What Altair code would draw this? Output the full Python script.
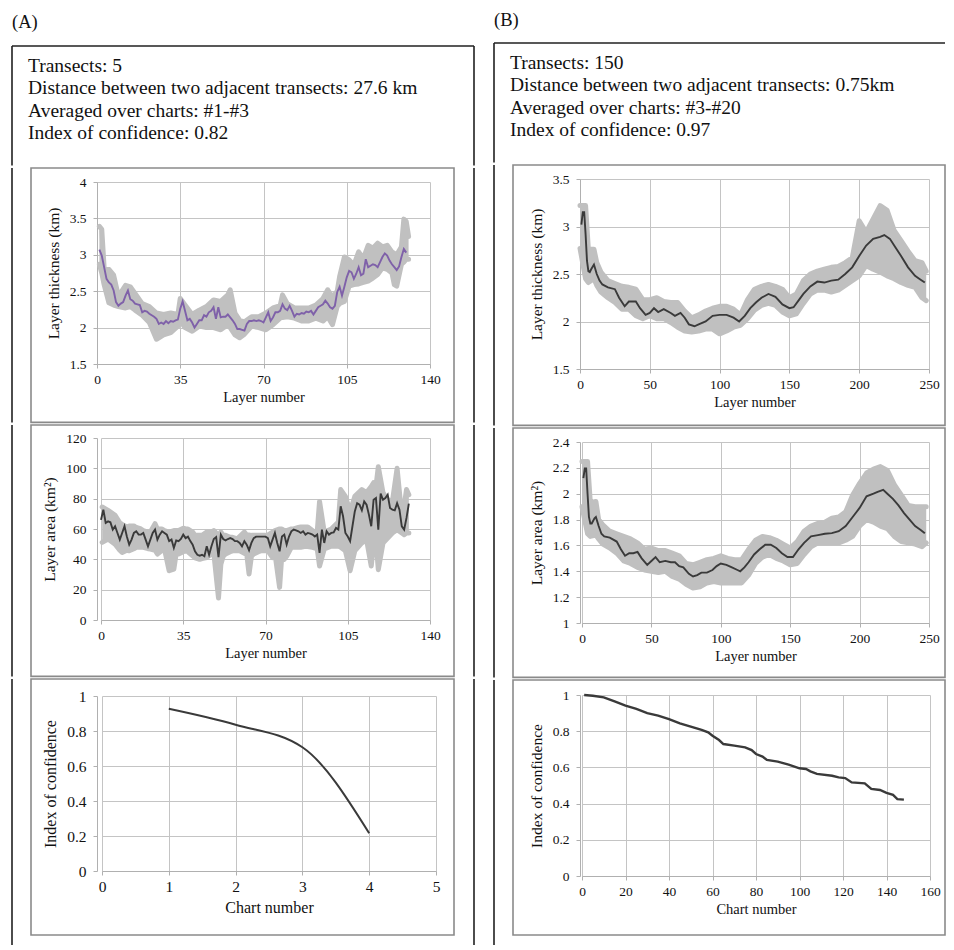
import altair as alt
import pandas as pd

FONT = "Liberation Serif"
GRID = "#c4c4c4"
BOXC = "#8a8a8a"
BLACK = "#202020"
BAND = "#c0c0c0"
DARK = "#3a3a3a"
PURPLE = "#7f61a9"

# ---------------- header texts ----------------
header_a = ["Transects: 5",
            "Distance between two adjacent transects: 27.6 km",
            "Averaged over charts: #1-#3",
            "Index of confidence: 0.82"]
header_b = ["Transects: 150",
            "Distance between two adjacent transects: 0.75km",
            "Averaged over charts: #3-#20",
            "Index of confidence: 0.97"]

# ---------------- (A) layer thickness ----------------
a1_layer = list(range(1, 131))
a1_mean = [3.07, 2.99, 2.83, 2.67, 2.62, 2.59, 2.51, 2.35, 2.30, 2.33,
           2.35, 2.44, 2.51, 2.39, 2.37, 2.33, 2.32, 2.31, 2.21, 2.23,
           2.22, 2.19, 2.17, 2.15, 2.12, 2.05, 2.07, 2.05, 2.09, 2.06,
           2.09, 2.08, 2.10, 2.11, 2.26, 2.36, 2.23, 2.10, 2.12, 2.07,
           2.00, 2.05, 2.10, 2.10, 2.17, 2.15, 2.21, 2.23, 2.28, 2.12,
           2.28, 2.14, 2.15, 2.15, 2.18, 2.14, 2.10, 2.05, 1.98, 1.98,
           1.97, 1.96, 2.05, 2.09, 2.09, 2.10, 2.09, 2.10, 2.09, 2.07,
           2.14, 2.21, 2.09, 2.14, 2.21, 2.21, 2.23, 2.32, 2.26, 2.24,
           2.30, 2.23, 2.15, 2.19, 2.18, 2.20, 2.19, 2.22, 2.21, 2.23,
           2.18, 2.23, 2.28, 2.30, 2.32, 2.37, 2.33, 2.28, 2.26, 2.30,
           2.49, 2.56, 2.44, 2.56, 2.69, 2.78, 2.76, 2.67, 2.74, 2.83,
           2.72, 2.74, 2.94, 2.83, 2.85, 2.87, 2.86, 2.83, 2.90, 2.97,
           3.02, 2.99, 2.92, 2.87, 2.83, 2.79, 2.84, 2.97, 3.08, 3.03]
a1_env_x = [1, 2, 3, 5, 7, 9, 12, 14, 16, 19, 22, 25, 28, 31, 34, 35, 37, 40, 43, 46,
            49, 52, 55, 56, 58, 60, 62, 65, 68, 71, 74, 77, 78, 80, 83, 86, 89, 92, 95, 97,
            99, 101, 102, 104, 106, 108, 110, 112, 114, 116, 118, 120, 122, 124, 125, 126,
            128, 129, 130, 131]
a1_env_hi = [3.39, 3.35, 2.82, 2.80, 2.72, 2.43, 2.58, 2.56, 2.47, 2.33, 2.29, 2.20, 2.18, 2.20,
             2.18, 2.40, 2.31, 2.18, 2.24, 2.29, 2.38, 2.36, 2.45, 2.52, 2.20, 2.10, 2.08, 2.15,
             2.15, 2.20, 2.27, 2.30, 2.45, 2.33, 2.27, 2.27, 2.27, 2.31, 2.40, 2.52, 2.42, 2.50,
             2.70, 2.97, 2.93, 2.86, 3.04, 2.95, 3.13, 3.09, 3.16, 3.11, 3.13, 3.04, 3.02, 3.00,
             3.11, 3.49, 3.46, 3.25]
a1_env_lo = [2.87, 2.75, 2.59, 2.34, 2.31, 2.29, 2.27, 2.29, 2.24, 2.17, 2.07, 1.84, 1.90, 1.93,
             2.02, 2.09, 2.00, 1.95, 2.02, 2.00, 2.00, 1.97, 2.04, 2.00, 1.90, 1.86, 1.91, 2.02,
             2.00, 1.97, 2.04, 2.13, 2.14, 2.15, 2.13, 2.09, 2.09, 2.13, 2.09, 2.15, 2.04, 2.29,
             2.33, 2.36, 2.57, 2.59, 2.60, 2.62, 2.64, 2.68, 2.73, 2.82, 2.80, 2.75, 2.59, 2.57,
             2.87, 2.90, 2.94, 2.94]

# ---------------- (A) layer area ----------------
a2_layer = list(range(0, 132))
a2_mean = [66, 72.7, 64, 65, 64.4, 59.6, 61.8, 57.4, 53, 57.4,
           61.8, 55, 49.7, 53, 57.4, 58.5, 56.3, 56.3, 57.4, 53,
           48.6, 53, 57.4, 59.6, 53, 56.3, 58.5, 57.4, 56.3, 52,
           53, 47.5, 52.5, 52, 53.4, 56.3, 54, 55, 52, 49.7,
           45.3, 43, 42.4, 43, 42, 48.6, 43, 48.6, 53.4, 54.7,
           41.5, 56.3, 53.4, 52.5, 53.4, 54, 53.4, 52, 52, 50.8,
           48.6, 52, 49.7, 46, 50.8, 54, 55, 55, 55, 55,
           55, 54, 48.6, 53, 57.4, 50.8, 45.3, 55, 56.3, 49.7,
           55, 58.5, 59.6, 59.1, 58.5, 57.4, 58.5, 56.3, 57.4, 56.9,
           56.3, 55, 56.3, 44.2, 59.6, 50.8, 58.5, 56.3, 57.4, 57.8,
           60.7, 59.6, 75, 68.4, 57.4, 55, 52, 61.8, 71.6, 77,
           76, 72.3, 78.2, 76, 69.5, 61.8, 79.3, 80.4, 59.6, 83.3,
           79.3, 80.4, 82.6, 73.8, 72.7, 72.3, 77, 72.7, 61.8, 59.6,
           67.3, 76.7]
a2_env_x = [0.5, 3, 6, 8, 9, 11, 12, 14, 15, 17, 18, 20, 21, 23, 24, 26, 27, 29, 31, 32,
            33, 35, 36, 37, 39, 40, 42, 43, 45, 47, 48, 50, 51, 52, 53, 55, 56, 58, 59, 61,
            62, 63, 64, 65, 67, 68, 70, 71, 73, 74, 76, 77, 78, 79, 81, 82, 84, 85, 87, 88,
            90, 91, 92, 93, 95, 98, 101, 102, 104, 106, 108, 111, 113, 115, 116, 117, 118,
            120, 122, 124, 126, 128, 129, 130, 131]
a2_env_hi = [74.5, 72.3, 69, 64, 63, 61.3, 62, 62, 61, 60, 59, 58, 58, 63.5, 60, 60, 59, 58, 59, 59,
             59, 60.5, 60, 60, 58, 55.8, 55.8, 55.8, 58, 58, 59, 55.8, 58, 55.8, 55.8, 54.5, 54.5,
             53.5, 55, 58, 56, 56, 55.8, 55.8, 55.8, 55.8, 55.8, 56, 58, 59, 60, 60, 59, 59, 60, 60,
             61, 61.3, 61.3, 61.3, 59, 58, 58, 78.2, 58, 60, 64.6, 86, 81.5, 71.6, 81.5, 86, 84,
             88, 90.5, 88, 101, 84, 79.3, 78.2, 100, 68.4, 75, 86, 82.6]
a2_env_lo = [51.2, 53.4, 50, 46, 44.5, 46, 45.6, 47, 47.9, 47.9, 47.9, 47, 46.8, 46, 43.5, 46, 46.8,
             32.5, 33.6, 44, 43.5, 45, 45.6, 45, 42.3, 41, 40, 40.5, 41.2, 43.5, 44, 14.5, 36.7,
             42, 43.5, 45, 45.6, 45.6, 45.6, 44, 43.5, 30.3, 42, 43.5, 45, 45.6, 45.6, 45.6, 41.2,
             44, 21.5, 44, 40, 42, 47.9, 47.9, 47.9, 48, 48.6, 48.5, 47.9, 47.5, 46.8, 35.6, 46.8,
             48.6, 48.6, 48, 45.6, 32.5, 45.6, 50.8, 53, 35.6, 50, 53, 33.2, 50.8, 54, 57.4, 59.6,
             57.4, 56.3, 57.4, 57.4]

# ---------------- (A) index of confidence ----------------
a3_chart = [1, 2, 3, 4]
a3_index = [0.927, 0.836, 0.707, 0.216]

# ---------------- (B) layer thickness ----------------
b1_layer = [1, 2, 3, 4, 5, 6, 7, 8, 10, 12, 14, 16, 20, 25, 28, 32, 35, 40, 43, 47, 50, 53, 56,
            60, 65, 68, 72, 75, 78, 82, 85, 90, 95, 100, 105, 110, 114, 118, 122, 126, 130, 135,
            140, 145, 150, 153, 157, 160, 165, 170, 175, 180, 185, 190, 195, 200, 205, 210, 215,
            218, 222, 226, 230, 235, 240, 244, 247]
b1_mean = [3.02, 3.15, 3.15, 2.92, 2.64, 2.53, 2.52, 2.55, 2.60, 2.50, 2.43, 2.39, 2.36, 2.34,
           2.25, 2.16, 2.21, 2.21, 2.14, 2.07, 2.09, 2.14, 2.10, 2.13, 2.09, 2.06, 2.09, 2.04,
           1.97, 1.95, 1.97, 2.00, 2.06, 2.07, 2.07, 2.04, 2.00, 2.06, 2.14, 2.20, 2.25, 2.29,
           2.26, 2.18, 2.14, 2.15, 2.23, 2.29, 2.37, 2.42, 2.41, 2.43, 2.44, 2.50, 2.57, 2.69,
           2.80, 2.87, 2.89, 2.91, 2.87, 2.78, 2.69, 2.57, 2.48, 2.44, 2.41]
b_env_x = [0, 4, 6, 10, 12, 15, 20, 25, 30, 35, 40, 45, 50, 55, 60, 65, 70, 75, 80, 85, 90, 95,
           100, 105, 110, 115, 120, 125, 130, 135, 140, 145, 150, 155, 160, 165, 170, 175, 180,
           185, 190, 195, 200, 205, 210, 215, 220, 225, 230, 235, 240, 245, 248]
b1_env_hi = [3.22, 3.22, 2.76, 2.76, 2.62, 2.52, 2.43, 2.40, 2.37, 2.36, 2.34, 2.23, 2.23, 2.25,
             2.21, 2.20, 2.20, 2.11, 2.04, 2.07, 2.11, 2.14, 2.16, 2.16, 2.13, 2.07, 2.23, 2.34,
             2.37, 2.39, 2.37, 2.34, 2.25, 2.29, 2.43, 2.50, 2.53, 2.55, 2.57, 2.58, 2.62, 2.67,
             3.06, 2.94, 3.08, 3.22, 3.17, 2.96, 2.85, 2.74, 2.64, 2.62, 2.53]
b1_env_lo = [2.77, 2.45, 2.41, 2.45, 2.38, 2.31, 2.25, 2.20, 2.13, 2.13, 2.06, 2.03, 2.06, 2.03,
             2.03, 1.99, 1.94, 1.90, 1.89, 1.90, 1.92, 1.92, 1.87, 1.90, 1.94, 1.96, 2.03, 2.12,
             2.17, 2.19, 2.17, 2.10, 2.06, 2.08, 2.19, 2.29, 2.33, 2.33, 2.31, 2.33, 2.38, 2.43,
             2.48, 2.59, 2.55, 2.52, 2.48, 2.45, 2.41, 2.38, 2.36, 2.25, 2.22]

# ---------------- (B) layer area ----------------
b2_layer = [1, 2, 3, 4, 5, 6, 7, 9, 10, 12, 14, 16, 20, 25, 28, 31, 34, 37, 40, 43, 47, 50, 53,
            56, 60, 64, 67, 70, 73, 77, 80, 83, 86, 90, 94, 97, 100, 104, 108, 112, 114, 117,
            120, 124, 128, 132, 136, 140, 144, 148, 152, 156, 160, 165, 170, 175, 180, 185, 190,
            195, 200, 205, 210, 213, 217, 220, 224, 228, 232, 236, 240, 244, 247]
b2_mean = [2.12, 2.195, 2.195, 2.0, 1.82, 1.77, 1.77, 1.81, 1.82, 1.75, 1.69, 1.67, 1.66, 1.63,
           1.57, 1.52, 1.54, 1.54, 1.55, 1.50, 1.45, 1.48, 1.51, 1.47, 1.48, 1.47, 1.47, 1.44,
           1.43, 1.38, 1.36, 1.37, 1.39, 1.39, 1.41, 1.44, 1.46, 1.45, 1.43, 1.41, 1.40, 1.43,
           1.47, 1.53, 1.57, 1.605, 1.605, 1.58, 1.54, 1.51, 1.51, 1.57, 1.62, 1.67, 1.68, 1.69,
           1.695, 1.71, 1.75, 1.82, 1.89, 1.98, 2.0, 2.015, 2.03, 2.0, 1.96, 1.91, 1.85, 1.80,
           1.75, 1.72, 1.695]
b2_env_hi = [2.25, 2.25, 1.93, 1.94, 1.80, 1.76, 1.71, 1.69, 1.67, 1.65, 1.62, 1.57, 1.58, 1.56,
             1.56, 1.54, 1.52, 1.46, 1.45, 1.47, 1.49, 1.50, 1.52, 1.50, 1.49, 1.49, 1.57, 1.64,
             1.67, 1.66, 1.64, 1.61, 1.58, 1.63, 1.71, 1.75, 1.77, 1.78, 1.81, 1.82, 1.86, 1.99,
             2.08, 2.16, 2.19, 2.21, 2.18, 2.07, 1.99, 1.91, 1.90, 1.90, 1.90]
b2_env_lo = [1.90, 1.69, 1.67, 1.68, 1.65, 1.61, 1.58, 1.54, 1.48, 1.46, 1.43, 1.41, 1.40, 1.39,
             1.40, 1.36, 1.34, 1.30, 1.27, 1.28, 1.31, 1.32, 1.31, 1.31, 1.31, 1.31, 1.37, 1.46,
             1.51, 1.53, 1.50, 1.48, 1.45, 1.46, 1.53, 1.59, 1.62, 1.62, 1.62, 1.62, 1.64, 1.67,
             1.75, 1.80, 1.78, 1.75, 1.73, 1.67, 1.63, 1.62, 1.61, 1.59, 1.62]

# ---------------- (B) index of confidence ----------------
b3_chart = [1, 5, 10, 15, 20, 25, 30, 35, 40, 45, 50, 55, 58, 60, 63, 65, 70, 75, 78, 80, 83, 85,
            90, 95, 100, 103, 105, 108, 115, 118, 121, 124, 130, 133, 137, 140, 143, 145, 148]
b3_index = [1.0, 0.996, 0.987, 0.965, 0.941, 0.923, 0.90, 0.886, 0.867, 0.843, 0.825, 0.807,
            0.794, 0.775, 0.751, 0.729, 0.72, 0.711, 0.696, 0.674, 0.66, 0.641, 0.632, 0.615,
            0.595, 0.591, 0.578, 0.564, 0.554, 0.545, 0.541, 0.517, 0.512, 0.481, 0.475, 0.459,
            0.448, 0.425, 0.422]

one = pd.DataFrame({"k": [0]})
LBL = "'' + datum.value"


def frame_layers(box, black_xs, y_bottom):
    x1, x2, y1, y2 = box
    out = [alt.Chart(one).mark_rect(fillOpacity=0, stroke=BOXC, strokeWidth=1.6).encode(
        x=alt.value(x1), x2=alt.value(x2), y=alt.value(y1), y2=alt.value(y2))]
    for bx in black_xs:
        out.append(alt.Chart(one).mark_rule(color=BLACK, strokeWidth=1.6).encode(
            x=alt.value(bx), y=alt.value(y1), y2=alt.value(y_bottom)))
    return out


def panel(w, xr, h, xdom, xticks, ydom, yticks, xtitle, ytitle, mean_x, mean_y, color,
          env=None, interp="linear", lw=1.9, lfs=13.5, xtfs=14.5, ytfs=15.5,
          box=None, black_xs=(), y_bottom=None):
    xs = alt.Scale(domain=xdom, range=xr, nice=False, zero=False)
    ys = alt.Scale(domain=ydom, nice=False, zero=False)
    xa = alt.Axis(values=xticks, title=xtitle, labelExpr=LBL, labelFontSize=lfs,
                  titleFontSize=xtfs, labelPadding=4, titlePadding=5, labelFlush=False,
                  labelOverlap=False)
    ya = alt.Axis(values=yticks, title=ytitle, labelExpr=LBL, labelFontSize=lfs,
                  titleFontSize=ytfs, labelPadding=7, titlePadding=8, labelOverlap=False)
    layers = []
    if env is not None:
        ex, ehi, elo = env
        edf = pd.DataFrame({"x": ex, "hi": ehi, "lo": elo})
        layers.append(alt.Chart(edf).mark_area(color=BAND).encode(
            x=alt.X("x:Q", scale=xs, axis=xa),
            y=alt.Y("hi:Q", scale=ys, axis=ya), y2="lo:Q"))
        for f in ["hi", "lo"]:
            layers.append(alt.Chart(edf).mark_line(color=BAND, strokeWidth=5, strokeCap="round",
                                                   strokeJoin="round").encode(
                x=alt.X("x:Q", scale=xs, axis=xa),
                y=alt.Y(f"{f}:Q", scale=ys, axis=ya)))
    mdf = pd.DataFrame({"x": mean_x, "y": mean_y})
    layers.append(alt.Chart(mdf).mark_line(color=color, strokeWidth=lw, interpolate=interp).encode(
        x=alt.X("x:Q", scale=xs, axis=xa),
        y=alt.Y("y:Q", scale=ys, axis=ya)))
    layers += frame_layers(box, black_xs, y_bottom)
    return alt.layer(*layers).properties(width=w, height=h)


def header(lines, label, x_left, x_right, H, label_y, topline, text_x, text_range, right_line):
    hd = pd.DataFrame({"i": list(range(len(lines))), "t": lines})
    yb = H + 0.4
    layers = [
        alt.Chart(one).mark_rect(fill="white", strokeWidth=0).encode(
            x=alt.value(x_left), x2=alt.value(x_right), y=alt.value(0), y2=alt.value(yb)),
        alt.Chart(one).mark_text(text=label, align="left", baseline="middle", font=FONT,
                                 fontSize=18.5, color="#111").encode(
            x=alt.value(x_left), y=alt.value(label_y)),
        alt.Chart(hd).mark_text(align="left", baseline="middle", font=FONT, fontSize=19.5,
                                color="#111").encode(
            x=alt.value(text_x),
            y=alt.Y("i:Q", scale=alt.Scale(domain=[0, 3], range=text_range), axis=None),
            text="t:N"),
        alt.Chart(one).mark_rule(color=BLACK, strokeWidth=1.6).encode(
            x=alt.value(x_left), x2=alt.value(x_right), y=alt.value(topline)),
        alt.Chart(one).mark_rule(color=BLACK, strokeWidth=1.6).encode(
            x=alt.value(x_left), y=alt.value(topline), y2=alt.value(yb)),
    ]
    if right_line:
        layers.append(alt.Chart(one).mark_rule(color=BLACK, strokeWidth=1.6).encode(
            x=alt.value(x_right), y=alt.value(topline), y2=alt.value(yb)))
    return alt.layer(*layers).properties(width=x_right, height=H)


# column A : common origin at the plot-left of the first chart
hA = header(header_a, "(A)", -85, 377, 153, 10, 34, -69, [54, 121], True)
a1 = panel(333, [0, 333], 182, [0, 140], [0, 35, 70, 105, 140], [1.5, 4],
           [1.5, 2, 2.5, 3, 3.5, 4],
           "Layer number", "Layer thickness (km)", a1_layer, a1_mean, PURPLE,
           env=(a1_env_x, a1_env_hi, a1_env_lo),
           box=(-66, 357, -14, 240.4), black_xs=(-85, 377), y_bottom=240.4)
a2 = panel(333, [4, 333], 182, [0, 140], [0, 35, 70, 105, 140], [0, 120],
           [0, 20, 40, 60, 80, 100, 120],
           "Layer number", "Layer area (km²)", a2_layer, a2_mean, DARK,
           env=(a2_env_x, a2_env_hi, a2_env_lo),
           box=(-66, 357, -13, 238.4), black_xs=(-85, 377), y_bottom=238.4)
a3 = panel(339, [5, 339], 175, [0, 5], [0, 1, 2, 3, 4, 5], [0, 1], [0, 0.2, 0.4, 0.6, 0.8, 1],
           "Chart number", "Index of confidence", a3_chart, a3_index, DARK,
           interp="monotone", lw=2.0, lfs=15.5, xtfs=16, ytfs=16,
           box=(-66, 357, -17, 239), black_xs=(-85, 377), y_bottom=249)

# column B
hB = header(header_b, "(B)", -86, 365, 150, 8, 31, -70, [51, 118], False)
b1 = panel(349, [0, 349], 190, [0, 250], [0, 50, 100, 150, 200, 250], [1.5, 3.5],
           [1.5, 2, 2.5, 3, 3.5],
           "Layer number", "Layer thickness (km)", b1_layer, b1_mean, DARK,
           env=(b_env_x, b1_env_hi, b1_env_lo),
           box=(-67, 365, -14, 246.4), black_xs=(-86,), y_bottom=246.4)
b2 = panel(349, [2, 349], 181, [0, 250], [0, 50, 100, 150, 200, 250], [1, 2.4],
           [1, 1.2, 1.4, 1.6, 1.8, 2, 2.2, 2.4],
           "Layer number", "Layer area (km²)", b2_layer, b2_mean, DARK,
           env=(b_env_x, b2_env_hi, b2_env_lo),
           box=(-67, 365, -14, 235.4), black_xs=(-86,), y_bottom=235.4)
b3 = panel(350, [2, 350], 181, [0, 160], [0, 20, 40, 60, 80, 100, 120, 140, 160], [0, 1],
           [0, 0.2, 0.4, 0.6, 0.8, 1],
           "Chart number", "Index of confidence", b3_chart, b3_index, DARK, lw=2.4,
           box=(-67, 365, -15, 240), black_xs=(-86,), y_bottom=250)

colA = alt.vconcat(hA, a1, a2, a3, spacing=0)
colB = alt.vconcat(hB, b1, b2, b3, spacing=0)

chart = alt.hconcat(colA, colB, spacing=18).properties(
    padding={"left": 3, "top": 3, "right": 0, "bottom": 0}
).configure_view(strokeWidth=0).configure_axis(
    labelFont=FONT, titleFont=FONT, labelColor="#111", titleColor="#111",
    titleFontWeight="normal", domainColor="#b0b0b0", gridColor=GRID, tickColor="#b0b0b0",
    tickSize=4, gridWidth=1, domainWidth=1
)

chart.save("out.html", embed_options={"renderer": "svg", "actions": False})
